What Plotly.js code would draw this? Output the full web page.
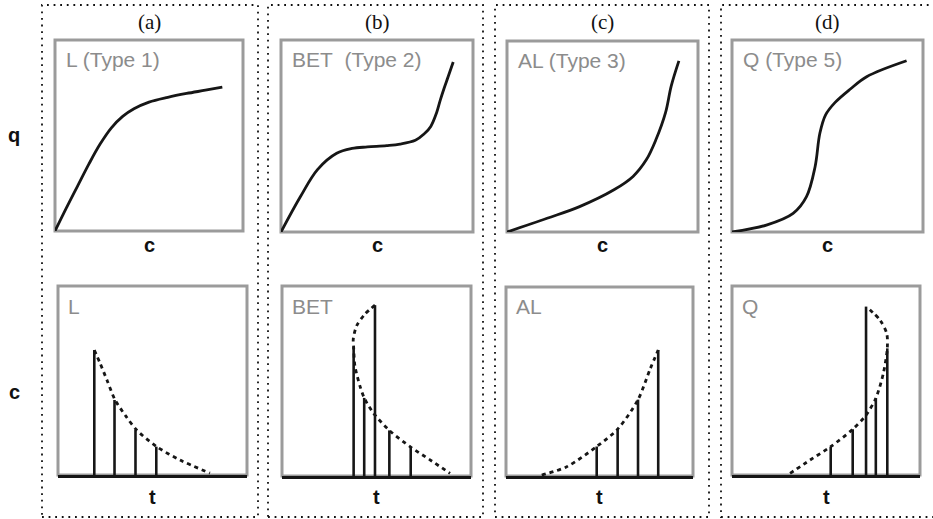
<!DOCTYPE html>
<html><head><meta charset="utf-8">
<script src="https://cdn.plot.ly/plotly-3.0.1.min.js"></script>
<style>html,body{margin:0;padding:0;background:#fff}</style>
</head><body><div id="chart" style="width:933px;height:519px"></div>
<script>
// ---------- data (normalised to each box, 0..1) ----------
const panelTitles = ['(a)', '(b)', '(c)', '(d)'];
const isoLabels = ['L (Type 1)', 'BET\u00a0\u00a0(Type 2)', 'AL (Type 3)', 'Q (Type 5)'];
const profLabels = ['L', 'BET', 'AL', 'Q'];

// isotherms q(c)
const L_c   = [0, 0.06, 0.12, 0.18, 0.24, 0.30, 0.36, 0.42, 0.50, 0.60, 0.70, 0.80, 0.89];
const L_q   = [0, 0.12, 0.235, 0.35, 0.455, 0.54, 0.60, 0.64, 0.675, 0.70, 0.72, 0.737, 0.753];
const BET_c = [0, 0.10, 0.19, 0.29, 0.37, 0.45, 0.55, 0.62, 0.70, 0.745, 0.78, 0.81, 0.83, 0.85, 0.87, 0.897];
const BET_q = [0, 0.182, 0.325, 0.41, 0.435, 0.443, 0.45, 0.458, 0.478, 0.51, 0.55, 0.62, 0.688, 0.75, 0.807, 0.885];
const AL_c  = [0, 0.21, 0.38, 0.56, 0.66, 0.73, 0.78, 0.83, 0.86, 0.90];
const AL_q  = [0, 0.072, 0.133, 0.221, 0.291, 0.379, 0.484, 0.625, 0.765, 0.896];
const Q_c   = [0, 0.18, 0.32, 0.39, 0.435, 0.46, 0.49, 0.54, 0.62, 0.705, 0.914];
const Q_q   = [0, 0.036, 0.097, 0.184, 0.34, 0.514, 0.61, 0.675, 0.745, 0.809, 0.892];

// chromatogram peaks (vertical lines) c(t)
const L_peakT   = [0.192, 0.299, 0.41, 0.52];
const L_peakC   = [0.661, 0.397, 0.238, 0.15];
const BET_peakT = [0.379, 0.435, 0.492, 0.568, 0.681];
const BET_peakC = [0.679, 0.411, 0.899, 0.24, 0.152];
const AL_peakT  = [0.485, 0.597, 0.706, 0.814];
const AL_peakC  = [0.156, 0.248, 0.404, 0.667];
const Q_peakT   = [0.525, 0.642, 0.713, 0.765, 0.826];
const Q_peakC   = [0.150, 0.242, 0.891, 0.406, 0.670];

// dashed envelopes
const L_envT   = [0.192, 0.222, 0.26, 0.302, 0.36, 0.416, 0.522, 0.646, 0.804];
const L_envC   = [0.661, 0.593, 0.50, 0.397, 0.31, 0.238, 0.15, 0.079, 0.01];
const BET_envT = [0.492, 0.439, 0.395, 0.377, 0.379, 0.386, 0.413, 0.435, 0.483, 0.568, 0.681, 0.783, 0.889];
const BET_envC = [0.899, 0.852, 0.79, 0.72, 0.679, 0.578, 0.472, 0.411, 0.332, 0.24, 0.152, 0.085, 0.014];
const AL_envT  = [0.191, 0.325, 0.485, 0.597, 0.706, 0.77, 0.814];
const AL_envC  = [0.005, 0.049, 0.156, 0.248, 0.404, 0.564, 0.667];
const Q_envT   = [0.309, 0.415, 0.525, 0.642, 0.713, 0.765, 0.805, 0.826, 0.823, 0.787, 0.716];
const Q_envC   = [0.009, 0.079, 0.150, 0.242, 0.317, 0.406, 0.538, 0.670, 0.749, 0.82, 0.89];

// ---------- layout helpers ----------
const W = 933, H = 519;
const topBoxes = [[55, 243, 40, 231], [281, 473, 40, 232], [507, 698, 41, 232], [732, 923, 40, 232]];
const botBoxes = [[58, 247, 286, 475], [282, 471, 286, 476], [506, 693, 287, 476], [732, 920, 286, 475]];
const frames = [[42, 258], [268, 483], [495, 709], [721, 945]];

const iso = [[L_c, L_q], [BET_c, BET_q], [AL_c, AL_q], [Q_c, Q_q]];
const peaks = [[L_peakT, L_peakC], [BET_peakT, BET_peakC], [AL_peakT, AL_peakC], [Q_peakT, Q_peakC]];
const envs = [[L_envT, L_envC], [BET_envT, BET_envC], [AL_envT, AL_envC], [Q_envT, Q_envC]];

const FONT = 'Liberation Sans, Arial, Helvetica, sans-serif';
const traces = [];
const layout = {
  width: W, height: H,
  margin: {l: 0, r: 0, t: 0, b: 0},
  paper_bgcolor: '#ffffff', plot_bgcolor: 'rgba(0,0,0,0)',
  showlegend: false,
  shapes: [], annotations: []
};

function axId(i) { return i === 1 ? '' : String(i); }
function addAxes(i, box, bottom) {
  const s = axId(i);
  layout['xaxis' + s] = {
    domain: [box[0] / W, box[1] / W], range: [0, 1], anchor: 'y' + s,
    showgrid: false, zeroline: false, showticklabels: false, ticks: '', fixedrange: true,
    showline: bottom, linecolor: '#151515', linewidth: 3
  };
  layout['yaxis' + s] = {
    domain: [1 - box[3] / H, 1 - box[2] / H], range: [0, 1], anchor: 'x' + s,
    showgrid: false, zeroline: false, showticklabels: false, ticks: '', fixedrange: true,
    showline: false
  };
  layout.shapes.push({
    type: 'rect', xref: 'x' + s + ' domain', yref: 'y' + s + ' domain',
    x0: 0, x1: 1, y0: 0, y1: 1, layer: 'below',
    line: {color: '#9b9b9b', width: 3}
  });
}

// vertical "stick" lines built from the peak arrays
function sticks(ts, cs) {
  const x = [], y = [];
  ts.forEach((t, j) => { x.push(t, t, null); y.push(0, cs[j], null); });
  return {x, y};
}

for (let k = 0; k < 4; k++) {
  const iT = k + 1, iB = k + 5;
  addAxes(iT, topBoxes[k], false);
  addAxes(iB, botBoxes[k], true);

  traces.push({
    type: 'scatter', mode: 'lines', x: iso[k][0], y: iso[k][1],
    xaxis: 'x' + axId(iT), yaxis: 'y' + axId(iT),
    line: {color: '#161616', width: 2.8, shape: 'spline', smoothing: 1},
    hoverinfo: 'skip', cliponaxis: false
  });
  const st = sticks(peaks[k][0], peaks[k][1]);
  traces.push({
    type: 'scatter', mode: 'lines', x: st.x, y: st.y, connectgaps: false,
    xaxis: 'x' + axId(iB), yaxis: 'y' + axId(iB),
    line: {color: '#161616', width: 2.6}, hoverinfo: 'skip', cliponaxis: false
  });
  traces.push({
    type: 'scatter', mode: 'lines', x: envs[k][0], y: envs[k][1],
    xaxis: 'x' + axId(iB), yaxis: 'y' + axId(iB),
    line: {color: '#161616', width: 2.8, dash: '4px,4px', shape: 'spline', smoothing: 0.8},
    hoverinfo: 'skip', cliponaxis: false
  });

  // dotted frame
  layout.shapes.push({
    type: 'rect', xref: 'paper', yref: 'paper',
    x0: frames[k][0] / W, x1: frames[k][1] / W, y0: 1 - 517 / H, y1: 1 - 5 / H,
    line: {color: '#111', width: 1.8, dash: '1.8px,4.8px'}, layer: 'below'
  });

  const tb = topBoxes[k], bb = botBoxes[k];
  const cxT = (tb[0] + tb[1]) / 2, cxB = (bb[0] + bb[1]) / 2;
  layout.annotations.push(
    {text: panelTitles[k], x: cxT / W, y: 1 - 22 / H, xref: 'paper', yref: 'paper',
     xanchor: 'center', yanchor: 'middle', showarrow: false,
     font: {family: 'Liberation Serif, Times New Roman, serif', size: 21, color: '#111'}},
    {text: isoLabels[k], x: (tb[0] + 9) / W, y: 1 - (tb[2] + 20) / H, xref: 'paper', yref: 'paper',
     xanchor: 'left', yanchor: 'middle', showarrow: false,
     font: {family: FONT, size: 21, color: '#8c8c8c'}},
    {text: profLabels[k], x: (bb[0] + 8) / W, y: 1 - (bb[2] + 20) / H, xref: 'paper', yref: 'paper',
     xanchor: 'left', yanchor: 'middle', showarrow: false,
     font: {family: FONT, size: 21, color: '#8c8c8c'}},
    {text: '<b>c</b>', x: cxT / W, y: 1 - 245 / H, xref: 'paper', yref: 'paper',
     xanchor: 'center', yanchor: 'middle', showarrow: false,
     font: {family: FONT, size: 20, color: '#111'}},
    {text: '<b>t</b>', x: cxB / W, y: 1 - 497 / H, xref: 'paper', yref: 'paper',
     xanchor: 'center', yanchor: 'middle', showarrow: false,
     font: {family: FONT, size: 20, color: '#111'}}
  );
}
layout.annotations.push(
  {text: '<b>q</b>', x: 14 / W, y: 1 - 135 / H, xref: 'paper', yref: 'paper',
   xanchor: 'center', yanchor: 'middle', showarrow: false, font: {family: FONT, size: 20, color: '#111'}},
  {text: '<b>c</b>', x: 14 / W, y: 1 - 392 / H, xref: 'paper', yref: 'paper',
   xanchor: 'center', yanchor: 'middle', showarrow: false, font: {family: FONT, size: 20, color: '#111'}}
);

Plotly.newPlot('chart', traces, layout, {staticPlot: true, displayModeBar: false});
</script>
</body></html>
